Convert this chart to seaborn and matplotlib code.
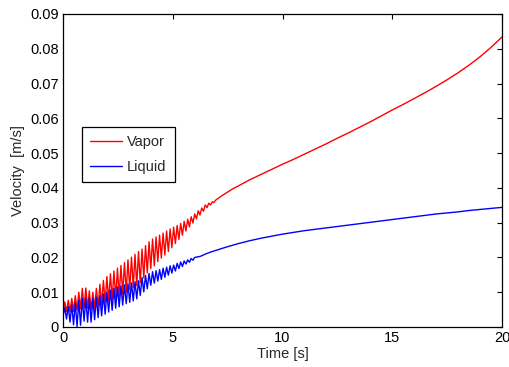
import matplotlib
matplotlib.use("Agg")
import matplotlib.pyplot as plt
import seaborn as sns
import pandas as pd

# ---- data ----
vapor_t = [0.00, 0.08, 0.16, 0.24, 0.32, 0.40, 0.48, 0.56, 0.64, 0.72,
           0.80, 0.88, 0.96, 1.04, 1.12, 1.20, 1.28, 1.36, 1.44, 1.52,
           1.60, 1.68, 1.76, 1.84, 1.92, 2.00, 2.08, 2.16, 2.24, 2.32,
           2.40, 2.48, 2.56, 2.64, 2.72, 2.80, 2.88, 2.96, 3.04, 3.12,
           3.20, 3.28, 3.36, 3.44, 3.52, 3.60, 3.68, 3.76, 3.84, 3.92,
           4.00, 4.08, 4.16, 4.24, 4.32, 4.40, 4.48, 4.56, 4.64, 4.72,
           4.80, 4.88, 4.96, 5.04, 5.12, 5.20, 5.28, 5.36, 5.44, 5.52,
           5.60, 5.68, 5.76, 5.84, 5.92, 6.00, 6.08, 6.16, 6.24, 6.32,
           6.40, 6.48, 6.56, 6.64, 6.72, 6.80, 6.88, 6.96,
           7.25, 7.50, 7.75, 8.00, 8.50, 9.00, 9.50, 10.0, 10.5, 11.0,
           11.5, 12.0, 12.5, 13.0, 13.5, 14.0, 14.5, 15.0, 15.5, 16.0,
           16.5, 17.0, 17.5, 18.0, 18.5, 19.0, 19.5, 20.0]
vapor_v = [0.0045, 0.0072, 0.0045, 0.0077, 0.0045, 0.0082, 0.0045, 0.0090, 0.0049, 0.0100,
           0.0052, 0.0111, 0.0055, 0.0112, 0.0054, 0.0104, 0.0049, 0.0100, 0.0053, 0.0111,
           0.0058, 0.0123, 0.0064, 0.0134, 0.0069, 0.0145, 0.0074, 0.0153, 0.0078, 0.0161,
           0.0082, 0.0169, 0.0087, 0.0177, 0.0094, 0.0185, 0.0100, 0.0193, 0.0107, 0.0201,
           0.0113, 0.0209, 0.0119, 0.0217, 0.0127, 0.0224, 0.0141, 0.0234, 0.0156, 0.0245,
           0.0168, 0.0253, 0.0176, 0.0259, 0.0188, 0.0264, 0.0198, 0.0270, 0.0207, 0.0276,
           0.0217, 0.0282, 0.0228, 0.0287, 0.0240, 0.0292, 0.0252, 0.0298, 0.0264, 0.0304,
           0.0276, 0.0310, 0.0288, 0.0317, 0.0299, 0.0325, 0.0311, 0.0334, 0.0322, 0.0342,
           0.0333, 0.0351, 0.0343, 0.0356, 0.0351, 0.0360, 0.0358, 0.0365,
           0.0378, 0.0388, 0.0398, 0.0406, 0.0423, 0.0438, 0.0453, 0.0468, 0.0482, 0.0497,
           0.0512, 0.0527, 0.0543, 0.0558, 0.0574, 0.0590, 0.0607, 0.0624, 0.0640, 0.0657,
           0.0674, 0.0692, 0.0711, 0.0731, 0.0753, 0.0777, 0.0804, 0.0834]

liquid_t = [0.00, 0.08, 0.16, 0.24, 0.32, 0.40, 0.48, 0.56, 0.64, 0.72,
            0.80, 0.88, 0.96, 1.04, 1.12, 1.20, 1.28, 1.36, 1.44, 1.52,
            1.60, 1.68, 1.76, 1.84, 1.92, 2.00, 2.08, 2.16, 2.24, 2.32,
            2.40, 2.48, 2.56, 2.64, 2.72, 2.80, 2.88, 2.96, 3.04, 3.12,
            3.20, 3.28, 3.36, 3.44, 3.52, 3.60, 3.68, 3.76, 3.84, 3.92,
            4.00, 4.08, 4.16, 4.24, 4.32, 4.40, 4.48, 4.56, 4.64, 4.72,
            4.80, 4.88, 4.96, 5.04, 5.12, 5.20, 5.28, 5.36, 5.44, 5.52,
            5.60, 5.68, 5.76, 5.84, 5.92, 6.00,
            6.25, 6.50, 6.75, 7.00, 7.50, 8.00, 8.50, 9.00, 9.50, 10.0,
            10.5, 11.0, 11.5, 12.0, 12.5, 13.0, 13.5, 14.0, 14.5, 15.0,
            15.5, 16.0, 16.5, 17.0, 17.5, 18.0, 18.5, 19.0, 19.5, 20.0]
liquid_v = [0.0030, 0.0056, 0.0023, 0.0059, 0.0014, 0.0064, 0.0006, 0.0070, 0.0001, 0.0077,
            0.0005, 0.0082, 0.0017, 0.0084, 0.0014, 0.0082, 0.0014, 0.0082, 0.0021, 0.0086,
            0.0027, 0.0090, 0.0032, 0.0095, 0.0037, 0.0100, 0.0043, 0.0106, 0.0048, 0.0111,
            0.0054, 0.0115, 0.0058, 0.0118, 0.0063, 0.0121, 0.0067, 0.0124, 0.0071, 0.0127,
            0.0075, 0.0130, 0.0081, 0.0133, 0.0091, 0.0142, 0.0101, 0.0148, 0.0110, 0.0154,
            0.0120, 0.0159, 0.0126, 0.0162, 0.0132, 0.0165, 0.0137, 0.0169, 0.0143, 0.0172,
            0.0149, 0.0176, 0.0155, 0.0178, 0.0161, 0.0183, 0.0168, 0.0187, 0.0174, 0.0190,
            0.0181, 0.0193, 0.0186, 0.0197, 0.0192, 0.0200,
            0.0203, 0.0210, 0.0216, 0.0221, 0.0231, 0.0240, 0.0248, 0.0255, 0.0261, 0.0267,
            0.0272, 0.0277, 0.0281, 0.0285, 0.0289, 0.0293, 0.0297, 0.0301, 0.0305, 0.0309,
            0.0313, 0.0317, 0.0321, 0.0325, 0.0328, 0.0331, 0.0335, 0.0338, 0.0341, 0.0344]

series_names = ["Vapor", "Liquid"]
x_ticks = [0, 5, 10, 15, 20]
x_ticklabels = ["0", "5", "10", "15", "20"]
y_ticks = [0, 0.01, 0.02, 0.03, 0.04, 0.05, 0.06, 0.07, 0.08, 0.09]
y_ticklabels = ["0", "0.01", "0.02", "0.03", "0.04", "0.05", "0.06", "0.07", "0.08", "0.09"]

df = pd.concat([
    pd.DataFrame({"Time": vapor_t, "Velocity": vapor_v, "Phase": series_names[0]}),
    pd.DataFrame({"Time": liquid_t, "Velocity": liquid_v, "Phase": series_names[1]}),
], ignore_index=True)

sns.set_style("white")
plt.rcParams["font.family"] = ["Liberation Sans", "DejaVu Sans"]

fig = plt.figure(figsize=(5.09, 3.67), dpi=100)
ax = fig.add_axes([63 / 509, 40 / 367, 439 / 509, 313 / 367])

sns.lineplot(data=df, x="Time", y="Velocity", hue="Phase",
             palette={"Vapor": "#ff0000", "Liquid": "#0000ff"},
             estimator=None, sort=False, linewidth=1.0, ax=ax)

ax.set_xlim(0, 20)
ax.set_ylim(0, 0.09)
ax.set_xticks(x_ticks)
ax.set_xticklabels(x_ticklabels)
ax.set_yticks(y_ticks)
ax.set_yticklabels(y_ticklabels)
ax.tick_params(direction="in", length=3.5, width=0.8, top=True, right=True,
               labelsize=10.5, colors="black", pad=3)
for s in ax.spines.values():
    s.set_visible(True)
    s.set_color("black")
    s.set_linewidth(0.9)

ax.set_xlabel("Time [s]", fontsize=10.5, labelpad=1)
ax.set_ylabel("Velocity  [m/s]", fontsize=10.5, labelpad=4)

leg = ax.legend(loc="upper left", bbox_to_anchor=(0.043, 0.639), frameon=True,
                fancybox=False, framealpha=1, edgecolor="black", fontsize=10.5,
                handlelength=2.2, handletextpad=0.35, borderpad=0.55,
                labelspacing=0.75, borderaxespad=0)
leg.get_frame().set_linewidth(0.9)
for line in leg.get_lines():
    line.set_linewidth(1.0)

fig.savefig("out.png", dpi=100)
